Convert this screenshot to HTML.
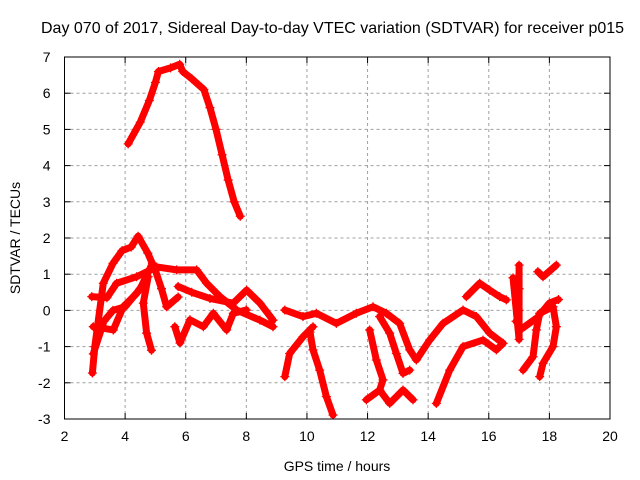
<!DOCTYPE html>
<html><head><meta charset="utf-8"><style>
body{margin:0;background:#fff}
svg{display:block;font-family:"Liberation Sans",sans-serif}
</style></head><body>
<svg id="chart" width="640" height="480">
<text x="41" y="33" font-size="16">Day 070 of 2017, Sidereal Day-to-day VTEC variation (SDTVAR) for receiver p015</text>
<text transform="translate(20,238) rotate(-90)" text-anchor="middle" font-size="14">SDTVAR / TECUs</text>
<text x="337" y="471" text-anchor="middle" font-size="14">GPS time / hours</text>
<g id="grid"></g><g id="marks"></g><g id="axes"></g>
</svg>
<script>
const xTicks=[2,4,6,8,10,12,14,16,18,20];
const yTicks=[-3,-2,-1,0,1,2,3,4,5,6,7];
const trackA_t=[4.1,4.5,4.8,5.0,5.1,5.5,5.8,5.9,6.2,6.6,6.8,7.0,7.2,7.4,7.6,7.8];
const trackA_v=[4.6,5.2,5.8,6.3,6.6,6.7,6.8,6.6,6.4,6.1,5.6,5.0,4.3,3.6,3.0,2.6];
const trackB_t=[2.92,3.0,3.28,3.6,3.9,4.2,4.43,4.75,5.0,5.2,5.37,5.75];
const trackB_v=[-1.73,-1.0,0.75,1.3,1.65,1.75,2.05,1.58,1.1,0.6,0.1,0.37];
const trackC_t=[2.9,3.4,3.72,4.38,5.04,5.7,6.36,6.69,7.13,7.68,8.45,8.88];
const trackC_v=[0.38,0.35,0.75,0.93,1.2,1.12,1.12,0.75,0.38,0.01,-0.27,-0.45];
const trackD_t=[2.95,3.61,3.94,4.38,4.76,4.6,4.71,4.87];
const trackD_v=[-0.45,-0.54,0.1,0.47,0.93,0.2,-0.63,-1.1];
const trackE_t=[2.95,3.3,3.6,4.0,4.5,4.9];
const trackE_v=[-1.2,-0.3,0.0,0.1,0.6,1.3];
const trackG_t=[5.75,6.2,6.8,7.57,8.01,8.45,8.88];
const trackG_v=[0.66,0.5,0.33,0.2,0.56,0.2,-0.27];
const trackH_t=[5.64,5.81,6.14,6.58,6.91,7.35,7.57,8.0];
const trackH_v=[-0.45,-0.9,-0.26,-0.45,-0.08,-0.54,-0.08,0.01];
const trackI_t=[9.27,9.87,10.31,10.97,11.63,12.18,12.62,13.06,13.39,13.61,14.05,14.49,15.15,15.59,16.03,16.47];
const trackI_v=[0.01,-0.17,-0.08,-0.36,-0.08,0.1,-0.08,-0.36,-1.09,-1.37,-0.82,-0.36,0.01,-0.17,-0.63,-0.91];
const trackJ_t=[10.1,10.2,10.42,10.64,10.86];
const trackJ_v=[-0.6,-1.09,-1.65,-2.38,-2.89];
const trackK_t=[9.27,9.43,9.87,10.2];
const trackK_v=[-1.83,-1.19,-0.73,-0.45];
const trackL_t=[12.07,12.29,12.51,12.4,11.96,12.4,12.73,13.17,13.5];
const trackL_v=[-0.54,-1.37,-1.92,-2.2,-2.47,-2.2,-2.57,-2.2,-2.47];
const trackM_t=[12.4,12.73,12.95,13.17,13.39];
const trackM_v=[-0.17,-0.63,-1.19,-1.74,-1.65];
const trackN_t=[14.27,14.71,15.15,15.81,16.25,16.47];
const trackN_v=[-2.57,-1.65,-1.0,-0.82,-1.09,-0.91];
const trackO_t=[15.26,15.7,16.03,16.36,16.58];
const trackO_v=[0.38,0.75,0.56,0.38,0.29];
const trackP_t=[17.13,17.46,17.57,17.68,18.12,18.23,18.12,17.79,17.68];
const trackP_v=[-1.65,-1.28,-0.54,-0.08,0.1,-0.45,-1.0,-1.46,-1.83];
const trackQ_t=[16.9,17.1,17.6,18.0,18.3];
const trackQ_v=[-0.3,-0.5,-0.2,0.2,0.3];
const trackR_t=[17.62,17.79,18.23];
const trackR_v=[1.07,0.93,1.25];
const trackS_t=[17.0,17.0,17.0,17.0,16.8];
const trackS_v=[1.25,0.6,0.0,-0.8,0.9];
const tracks=[[trackA_t,trackA_v],[trackB_t,trackB_v],[trackC_t,trackC_v],[trackD_t,trackD_v],[trackE_t,trackE_v],[trackG_t,trackG_v],[trackH_t,trackH_v],[trackI_t,trackI_v],[trackJ_t,trackJ_v],[trackK_t,trackK_v],[trackL_t,trackL_v],[trackM_t,trackM_v],[trackN_t,trackN_v],[trackO_t,trackO_v],[trackP_t,trackP_v],[trackQ_t,trackQ_v],[trackR_t,trackR_v],[trackS_t,trackS_v]];
const L=64.5,R=610,T=57,B=419;
function X(t){return L+(t-2)/18*(R-L);}
function Y(v){return B-(v+3)/10*(B-T);}
const NS="http://www.w3.org/2000/svg";
function mk(tag,attrs,parent){const e=document.createElementNS(NS,tag);for(const k in attrs)e.setAttribute(k,attrs[k]);parent.appendChild(e);return e;}
const grid=document.getElementById('grid'),axes=document.getElementById('axes'),marks=document.getElementById('marks');
xTicks.forEach(t=>{
 if(t>2&&t<20){const g=mk('line',{x1:X(t),x2:X(t),y1:T,y2:B,stroke:'#a0a0a0','stroke-dasharray':'3,3'},grid);
 
 }
 mk('line',{x1:X(t),x2:X(t),y1:B,y2:B-6,stroke:'#000'},axes);
 mk('line',{x1:X(t),x2:X(t),y1:T,y2:T+6,stroke:'#000'},axes);
 const l=mk('text',{x:X(t),y:B+22,'text-anchor':'middle','font-size':'14'},axes);
 l.textContent=t;
 
 
});
yTicks.forEach(v=>{
 if(v>-3&&v<7){const g=mk('line',{x1:L,x2:R,y1:Y(v),y2:Y(v),stroke:'#a0a0a0','stroke-dasharray':'3,3'},grid);
 
 }
 mk('line',{x1:L,x2:L+6,y1:Y(v),y2:Y(v),stroke:'#000'},axes);
 mk('line',{x1:R,x2:R-6,y1:Y(v),y2:Y(v),stroke:'#000'},axes);
 const l=mk('text',{x:L-14,y:Y(v)+5,'text-anchor':'end','font-size':'14'},axes);
 l.textContent=v;
 
 
});
const box=mk('rect',{x:L,y:T,width:R-L,height:B-T,fill:'none',stroke:'#000'},axes);


tracks.forEach(([ts,vs],i)=>{
 const pts=ts.map((t,j)=>X(t)+','+Y(vs[j])).join(' ');
 const pl=mk('polyline',{points:pts,fill:'none',stroke:'#ff0000','stroke-width':'7','stroke-linejoin':'round','stroke-linecap':'round'},marks);
 
 
 ts.forEach((t,j)=>{
  const x=X(t),y=Y(vs[j]);
  const p=mk('path',{d:`M${x-4.5},${y}H${x+4.5}M${x},${y-4.5}V${y+4.5}`,stroke:'#ff0000','stroke-width':'1.3'},marks);
  
  
 });
});
</script>
</body></html>
